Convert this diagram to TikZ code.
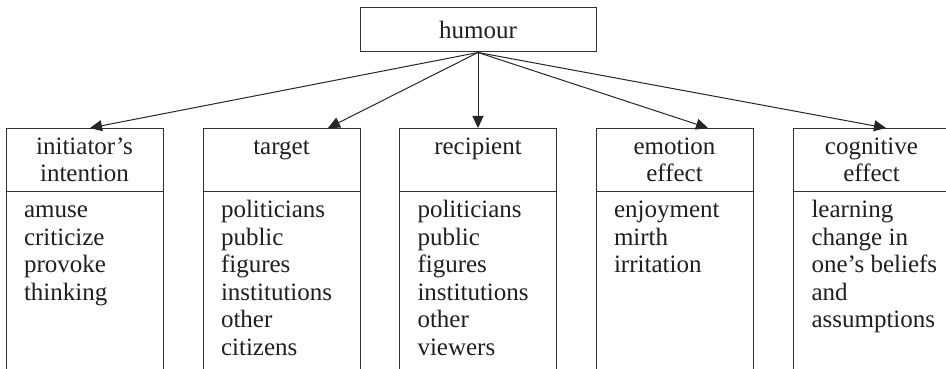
\documentclass[tikz,border=0pt]{standalone}
\usepackage{fontspec}
\setmainfont{Liberation Serif}
\usetikzlibrary{arrows.meta}
\begin{document}
\begin{tikzpicture}[x=1pt,y=-1pt,
  line width=1pt,
  every node/.style={font=\fontsize{25}{27.5}\selectfont, text=black!88},
  box/.style={draw=black!80, rectangle, inner sep=0pt, minimum width=157pt},
  hdr/.style={box, minimum height=63pt},
  bodybox/.style={box, minimum height=190pt},
  htext/.style={anchor=north, align=center, inner sep=0pt},
  btext/.style={anchor=north west, align=left, inner sep=0pt},
  arr/.style={draw=black!85, -{Triangle[length=12pt,width=11pt]}}]
\useasboundingbox (0,0) rectangle (946,369);
\clip (0,0) rectangle (946,369);
% top node
\node[box, minimum width=236pt, minimum height=44pt] (hum) at (478,30) {humour};
% header boxes
\node[hdr] (h1) at (84.5,159.5) {};
\node[hdr] (h2) at (281.5,159.5) {};
\node[hdr] (h3) at (478,159.5) {};
\node[hdr] (h4) at (674.5,159.5) {};
\node[hdr] (h5) at (871.5,159.5) {};
% body boxes (open at the bottom edge of the picture)
\node[bodybox] (b1) at (84.5,286) {};
\node[bodybox] (b2) at (281.5,286) {};
\node[bodybox] (b3) at (478,286) {};
\node[bodybox] (b4) at (674.5,286) {};
\node[bodybox] (b5) at (871.5,286) {};
% header texts
\node[htext] (ht1) at (84.5,134.5) {\strut initiator's\\\strut intention};
\node[htext] (ht2) at (281.5,134.5) {\strut target};
\node[htext] (ht3) at (478,134.5) {\strut recipient};
\node[htext] (ht4) at (674.5,134.5) {\strut emotion\\\strut effect};
\node[htext] (ht5) at (871.5,134.5) {\strut cognitive\\\strut effect};
% body texts
\node[btext] (bt1) at (23.5,198) {\strut amuse\\\strut criticize\\\strut provoke\\\strut thinking};
\node[btext] (bt2) at (220.5,198) {\strut politicians\\\strut public\\\strut figures\\\strut institutions\\\strut other\\\strut citizens};
\node[btext] (bt3) at (417,198) {\strut politicians\\\strut public\\\strut figures\\\strut institutions\\\strut other\\\strut viewers};
\node[btext] (bt4) at (613.5,198) {\strut enjoyment\\\strut mirth\\\strut irritation};
\node[btext] (bt5) at (811,198) {\strut learning\\\strut change in\\\strut one's beliefs\\\strut and\\\strut assumptions};
% arrow targets on header tops
\coordinate (t1) at (90,128);
\coordinate (t2) at (328,128);
\coordinate (t3) at (478,128);
\coordinate (t4) at (708,128);
\coordinate (t5) at (886,128);
\foreach \i in {1,...,5} \draw[arr] (hum.south) -- (t\i);
\end{tikzpicture}
\end{document}
